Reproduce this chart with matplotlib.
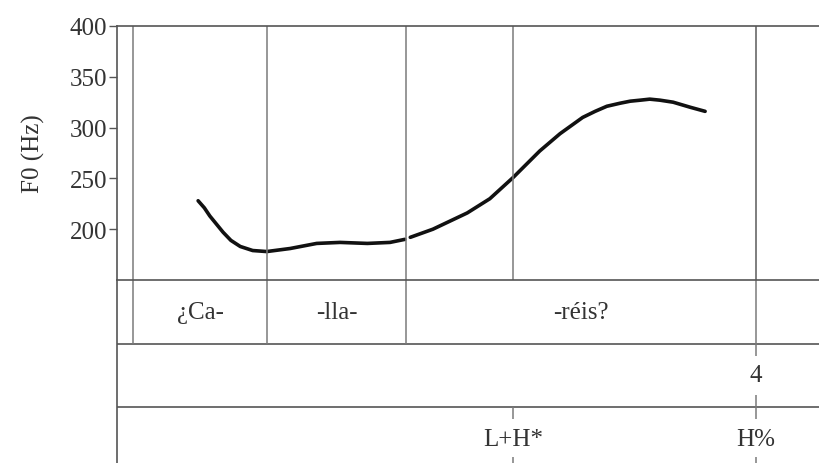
import matplotlib
matplotlib.use("Agg")
import matplotlib.pyplot as plt

plt.rcParams['font.family'] = ['Liberation Serif', 'DejaVu Serif']

# F0 contour, two voiced stretches (time in s, F0 in Hz)
t1 = [0.104, 0.112, 0.119, 0.136, 0.146, 0.158, 0.174, 0.192, 0.222, 0.256, 0.286,
      0.321, 0.350, 0.369]
f1 = [228, 221, 213, 197, 189, 183, 179, 178, 181, 186, 187, 186, 187, 190]
t2 = [0.376, 0.405, 0.449, 0.478, 0.508, 0.542, 0.568, 0.597, 0.613, 0.628, 0.645,
      0.658, 0.671, 0.683, 0.696, 0.713, 0.735, 0.754]
f2 = [192, 200, 216, 230, 251, 277, 294, 310, 316, 321, 324, 326, 327, 328, 327,
      325, 320, 316]

# syllable tier
syl_bounds = [0.021, 0.192, 0.371, 0.819]
syl_labels = ['¿Ca-', '-lla-', '-réis?']
# break index tier
break_times = [0.819]
break_labels = ['4']
# tone tier
tone_times = [0.508, 0.819]
tone_labels = ['L+H*', 'H%']

yticks = [200, 250, 300, 350, 400]

line_col = '#7a7a7a'
spine_col = '#555555'
txt_col = '#333333'
fs = 18

fig = plt.figure(figsize=(8.19, 4.64), dpi=100)
ax = fig.add_axes([117 / 819, 183 / 464, 702 / 819, 254 / 464])
tg = fig.add_axes([117 / 819, 0, 702 / 819, 183 / 464])

ax.plot(t1, f1, color='#111111', lw=2.6, solid_capstyle='round')
ax.plot(t2, f2, color='#111111', lw=2.6, solid_capstyle='round')
ax.set_xlim(0, 0.9)
ax.set_ylim(150, 400)
ax.set_yticks(yticks)
ax.set_xticks([])
ax.tick_params(axis='y', labelsize=fs, length=6, width=1, color=spine_col,
               labelcolor=txt_col, pad=1)
ax.set_ylabel('F0 (Hz)', fontsize=fs, color=txt_col, labelpad=18)
for x in syl_bounds + tone_times:
    ax.axvline(x, color=line_col, lw=1.1)
for s in ['right', 'bottom']:
    ax.spines[s].set_visible(False)
for s in ['left', 'top']:
    ax.spines[s].set_color(spine_col)
    ax.spines[s].set_linewidth(1.2)

# text grid below the contour
tg.set_xlim(0, 0.9)
tg.set_ylim(2.88, 0)
tg.set_xticks([])
tg.set_yticks([])
for s in ['right', 'bottom']:
    tg.spines[s].set_visible(False)
for s in ['left', 'top']:
    tg.spines[s].set_color(spine_col)
    tg.spines[s].set_linewidth(1.2)
for y in [1, 2]:
    tg.axhline(y, color=spine_col, lw=1.2)

tg.vlines(syl_bounds, 0, 1, color=line_col, lw=1.1)
for i, lab in enumerate(syl_labels):
    tg.text((syl_bounds[i] + syl_bounds[i + 1]) / 2, 0.5, lab, fontsize=fs,
            color=txt_col, ha='center', va='center')

for x, lab in zip(break_times, break_labels):
    tg.vlines([x, x], [1.0, 1.81], [1.19, 2.0], color=line_col, lw=1.1)
    tg.text(x, 1.5, lab, fontsize=fs, color=txt_col, ha='center', va='center')

for x, lab in zip(tone_times, tone_labels):
    tg.vlines([x, x], [2.0, 2.79], [2.19, 3.0], color=line_col, lw=1.1)
    tg.text(x, 2.5, lab, fontsize=fs, color=txt_col, ha='center', va='center')

fig.savefig('out.png', dpi=100)
